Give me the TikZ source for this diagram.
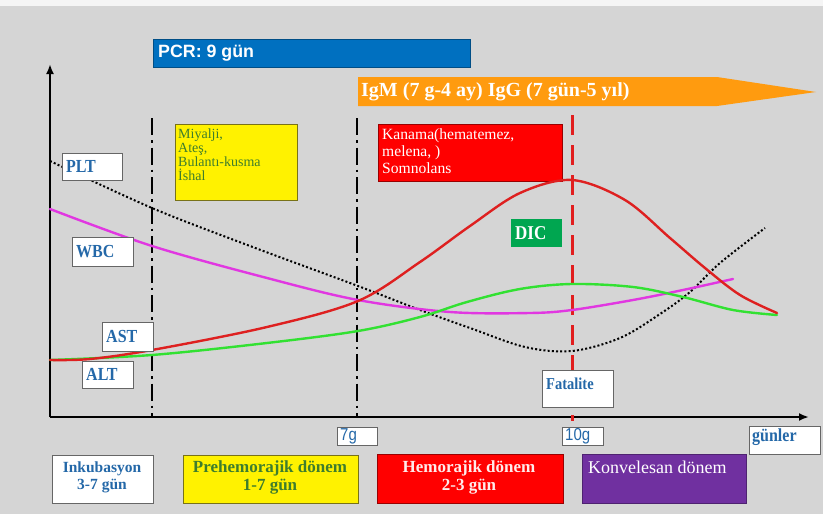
\documentclass[tikz,border=0pt]{standalone}
\usepackage{fontspec}
\usepackage{graphicx}
\setmainfont{Liberation Serif}
\setsansfont{Liberation Sans}
\usetikzlibrary{arrows.meta}
\definecolor{bgc}{RGB}{213,213,213}
\definecolor{pcrblue}{RGB}{0,112,192}
\definecolor{orng}{RGB}{255,155,15}
\definecolor{lblue}{RGB}{36,104,168}
\definecolor{tgreen}{RGB}{62,125,45}
\definecolor{dicgreen}{RGB}{0,166,80}
\definecolor{purp}{RGB}{112,48,160}
\definecolor{astred}{RGB}{222,32,32}
\definecolor{altgreen}{RGB}{50,225,50}
\definecolor{wbcmag}{RGB}{225,55,225}
\definecolor{vred}{RGB}{225,30,30}
\newcommand\fs[2]{\fontsize{#1}{#2}\selectfont}
\newcommand\st[1]{\scalebox{1}[1.15]{#1}}
\tikzset{
  bx/.style={anchor=north west, inner sep=0pt, outer sep=0pt, line width=0.9pt},
  wbox/.style={bx, draw=gray!80!black, fill=white},
  lbl/.style={anchor=west, inner sep=0pt, text=lblue, font=\bfseries\fs{16}{18}},
  curve/.style={line width=2.4pt, line cap=round},
  dashdot/.style={line width=2pt, dash pattern=on 17pt off 5pt on 2.5pt off 5pt},
}
\begin{document}
\begin{tikzpicture}[x=1pt,y=-1pt]
\useasboundingbox (0,0) rectangle (823,514);
\fill[bgc] (0,0) rectangle (823,514);
\fill[white!92!gray] (0,0) rectangle (823,6);

% axes
\coordinate (O) at (50,417);
\coordinate (ytop) at (50,64);
\coordinate (xend) at (809,417);
\draw[line width=2.2pt, -{Latex[length=10pt,width=8pt]}] (O) -- (ytop);
\draw[line width=2.2pt, -{Latex[length=10pt,width=8pt]}] (O) -- (xend);

% phase lines
\coordinate (d1t) at (152,118); \coordinate (d1b) at (152,417);
\coordinate (d2t) at (357,118); \coordinate (d2b) at (357,417);
\coordinate (rt) at (572,115); \coordinate (rb) at (572,421);
\draw[dashdot] (d1t) -- (d1b);
\draw[dashdot] (d2t) -- (d2b);
\draw[vred, line width=3pt, dash pattern=on 20pt off 10pt] (rt) -- (rb);

% PCR bar
\node[bx, draw=pcrblue!70!black, fill=pcrblue, minimum width=317pt, minimum height=28pt] (pcr) at (153,39) {};
\node[anchor=west, inner sep=0pt, text=white, font=\sffamily\bfseries\fs{17.8}{19}] (pcrt) at (158,53) {PCR: 9 gün};

% IgM arrow
\fill[orng] (358,77) -- (717,77) -- (816,92) -- (717,106) -- (358,106) -- cycle;
\node[anchor=west, inner sep=0pt, text=white, font=\bfseries\fs{20}{21}] (igm) at (361,92) {IgM (7 g-4 ay) IgG (7 gün-5 yıl)};

% symptom boxes
\node[bx, draw=olive!80!black, fill=yellow, minimum width=122pt, minimum height=76pt] (yb) at (175,124) {};
\node[anchor=north west, inner sep=0pt, align=left, text=tgreen, font=\fs{14}{13.7}] (ybt) at (178,129) {Miyalji,\\Ateş,\\Bulantı-kusma\\İshal};
\node[bx, draw=red!60!black, fill=red, minimum width=184pt, minimum height=57pt] (kb) at (378,124) {};
\node[anchor=north west, inner sep=0pt, align=left, text=white, font=\fs{15.6}{17.3}] (kbt) at (382,128) {Kanama(hematemez,\\melena, )\\Somnolans};

% curves
\draw[curve, black, line width=2pt, dash pattern=on 2pt off 2.2pt, line cap=butt] plot[smooth, tension=0.55] coordinates {(50,161) (152,208) (250,246) (358,286) (420,310) (470,328) (525,347) (572,351) (620,338) (660,314) (690,292) (720,263) (765,228)};
\draw[curve, wbcmag] plot[smooth, tension=0.55] coordinates {(50,209) (152,246) (267,278) (358,300) (450,312) (530,313) (572,310) (633,300) (683,290) (733,279)};
\draw[curve, altgreen] plot[smooth, tension=0.55] coordinates {(50,360) (152,355) (267,343) (358,331) (420,317) (467,302) (520,289) (572,284) (633,287) (683,297) (733,310) (777,315)};
\draw[curve, astred] plot[smooth, tension=0.55] coordinates {(50,360) (90,359) (152,350) (267,327) (358,301) (420,262) (470,226) (520,193) (572,180) (625,200) (670,238) (705,268) (740,295) (777,313)};

% curve labels
\node[wbox, minimum width=60pt, minimum height=27pt] (plt) at (62,153) {};
\node[lbl] (pltt) at (66,166.5) {\st{PLT}};
\node[wbox, minimum width=61pt, minimum height=29pt] (wbc) at (72,237) {};
\node[lbl] (wbct) at (76,251.5) {\st{WBC}};
\node[wbox, minimum width=51pt, minimum height=29pt] (ast) at (102,322) {};
\node[lbl] (astt) at (106,336.5) {\st{AST}};
\node[wbox, minimum width=51pt, minimum height=27pt] (alt) at (82,361) {};
\node[lbl] (altt) at (86,374.5) {\st{ALT}};
\node[bx, fill=dicgreen, minimum width=51pt, minimum height=28pt] (dic) at (511,219) {};
\node[lbl, text=white, font=\bfseries\fs{17}{19}] (dict) at (515,233) {\st{DIC}};
\node[wbox, minimum width=71pt, minimum height=37pt] (fat) at (542,370) {};
\node[lbl, font=\bfseries\fs{14.5}{16}] (fatt) at (546,384) {\st{Fatalite}};

% axis labels
\node[wbox, minimum width=40pt, minimum height=18pt] (g7) at (337,427) {};
\node[lbl, font=\sffamily\fs{15}{17}] (g7t) at (340,436) {\st{7g}};
\node[wbox, minimum width=41pt, minimum height=18pt] (g10) at (562,427) {};
\node[lbl, font=\sffamily\fs{15}{17}] (g10t) at (565,436) {\st{10g}};
\node[wbox, minimum width=71pt, minimum height=28pt] (gun) at (749,426) {};
\node[lbl, font=\bfseries\fs{16}{18}] (gunt) at (752,437) {\st{günler}};

% phase boxes
\node[wbox, minimum width=101pt, minimum height=48pt] (p1) at (52,455) {};
\node[inner sep=0pt, align=center, text=lblue, font=\bfseries\fs{15.5}{17}] (p1t) at (102,477) {Inkubasyon\\3-7 gün};
\node[bx, draw=olive!80!black, fill=yellow, minimum width=175pt, minimum height=48pt] (p2) at (183,455) {};
\node[inner sep=0pt, align=center, text=tgreen, font=\bfseries\fs{17}{18}] (p2t) at (270,477) {Prehemorajik dönem\\1-7 gün};
\node[bx, draw=red!60!black, fill=red, minimum width=186pt, minimum height=49pt] (p3) at (377,454) {};
\node[inner sep=0pt, align=center, text=red!8!white, font=\bfseries\fs{17}{18}] (p3t) at (469,477) {Hemorajik dönem\\2-3 gün};
\node[bx, draw=purp!70!black, fill=purp, minimum width=164pt, minimum height=49pt] (p4) at (582,454) {};
\node[anchor=west, inner sep=0pt, text=white, font=\fs{18}{19}] (p4t) at (588,467) {Konvelesan dönem};
\end{tikzpicture}
\end{document}
